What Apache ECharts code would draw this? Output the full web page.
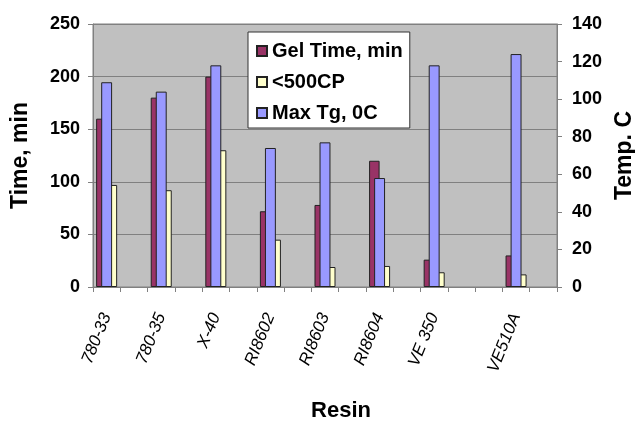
<!DOCTYPE html>
<html>
<head>
<meta charset="utf-8">
<script src="https://cdn.jsdelivr.net/npm/echarts@6/dist/echarts.min.js"></script>
<style>
html,body{margin:0;padding:0;background:#fff;}
#c{width:635px;height:425px;}
</style>
</head>
<body>
<div id="c"></div>
<script>
// Category slots (blank slots are empty categories in the source sheet)
var categories = ['780-33','','780-35','','X-40','','RI8602','','RI8603','','RI8604','','VE 350','','','VE510A',''];
var gelTime   = [160,null,180,null,200,null,72,null,78,null,120,null,26,null,null,30,null];
var cp500     = [97,null,92,null,130,null,45,null,19,null,20,null,14,null,null,12,null];
var maxTg     = [109,null,104,null,118,null,74,null,77,null,58,null,118,null,null,124,null];
var timeTicks = {min:0, max:250, interval:50};
var tempTicks = {min:0, max:140, interval:20};

var FONT = "'Liberation Sans', Arial, sans-serif";
var chart = echarts.init(document.getElementById('c'), null, {renderer:'canvas'});
var barBorder = {borderColor:'#222', borderWidth:1};

chart.setOption({
  animation:false,
  textStyle:{fontFamily:FONT},
  legend:{
    orient:'vertical', left:248, top:32,
    backgroundColor:'#fff', borderColor:'#333', borderWidth:1,
    padding:[9,7,5,8], itemGap:11,
    itemWidth:10, itemHeight:10, icon:'rect',
    textStyle:{fontFamily:FONT, fontSize:20, fontWeight:'bold', color:'#000'},
    data:['Gel Time, min','<500CP','Max Tg, 0C']
  },
  grid:{left:93, right:78, top:24, bottom:138, show:true, outerBoundsMode:'none', containLabel:false,
        backgroundColor:'#C0C0C0', borderColor:'#808080', borderWidth:1},
  xAxis:[{
    type:'category', data:categories, boundaryGap:true,
    name:'Resin', nameLocation:'middle', nameGap:113,
    nameTextStyle:{fontFamily:FONT, fontSize:22, fontWeight:'bold', color:'#000', padding:[0,0,0,32]},
    axisLine:{lineStyle:{color:'#808080'}},
    axisTick:{show:true, interval:0, alignWithLabel:false, length:5, lineStyle:{color:'#808080'}},
    axisLabel:{interval:0, rotate:68, margin:27, fontFamily:FONT, fontSize:17, fontStyle:'italic', color:'#000'},
    splitLine:{show:false}
  },{
    type:'category', data:categories, boundaryGap:true, show:false
  }],
  yAxis:[{
    type:'value', min:timeTicks.min, max:timeTicks.max, interval:timeTicks.interval,
    name:'Time, min', nameLocation:'middle', nameGap:61, nameRotate:90,
    nameTextStyle:{fontFamily:FONT, fontSize:23, fontWeight:'bold', color:'#000'},
    axisLine:{show:true, lineStyle:{color:'#808080'}},
    axisTick:{show:true, length:5, lineStyle:{color:'#808080'}},
    axisLabel:{margin:13, fontFamily:FONT, fontSize:18, fontWeight:'bold', color:'#000'},
    splitLine:{show:true, lineStyle:{color:'#808080', width:1}}
  },{
    type:'value', min:tempTicks.min, max:tempTicks.max, interval:tempTicks.interval, position:'right',
    name:'Temp. C', nameLocation:'middle', nameGap:55, nameRotate:90,
    nameTextStyle:{fontFamily:FONT, fontSize:23, fontWeight:'bold', color:'#000'},
    axisLine:{show:true, lineStyle:{color:'#808080'}},
    axisTick:{show:true, length:5, lineStyle:{color:'#808080'}},
    axisLabel:{margin:15, fontFamily:FONT, fontSize:18, fontWeight:'bold', color:'#000'},
    splitLine:{show:false}
  }],
  series:[{
    name:'Gel Time, min', type:'bar', xAxisIndex:0, yAxisIndex:0, data:gelTime,
    barGap:'0%', barCategoryGap:'23%',
    itemStyle:Object.assign({color:'#993366'}, barBorder)
  },{
    name:'<500CP', type:'bar', xAxisIndex:0, yAxisIndex:0, data:cp500,
    barGap:'0%', barCategoryGap:'23%',
    itemStyle:Object.assign({color:'#FFFFCC'}, barBorder)
  },{
    name:'Max Tg, 0C', type:'bar', xAxisIndex:1, yAxisIndex:1, data:maxTg,
    barWidth:'40%',
    itemStyle:Object.assign({color:'#9999FF'}, barBorder)
  }]
});
</script>
</body>
</html>
